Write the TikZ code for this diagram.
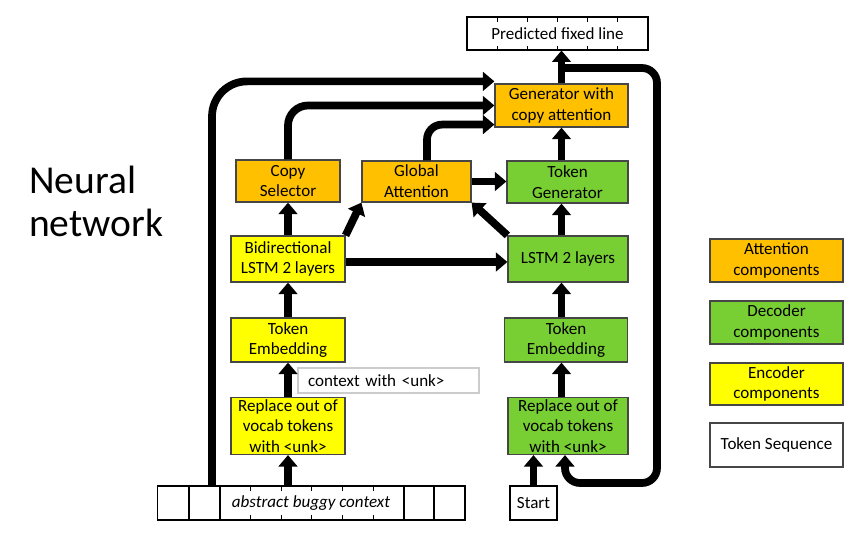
\documentclass[tikz,border=0pt]{standalone}
\usepackage{fontspec}
\setmainfont{Carlito}
\usetikzlibrary{arrows.meta}
\definecolor{attorange}{RGB}{255,192,0}
\definecolor{decgreen}{RGB}{120,207,52}
\definecolor{encyellow}{RGB}{255,255,0}
\definecolor{boxline}{RGB}{70,70,70}

\begin{document}
\begin{tikzpicture}[x=0.02cm, y=-0.02cm, font=\fontsize{9.7}{11.8}\selectfont]
            \useasboundingbox (0,0) rectangle (866,553);
            \tikzset{
                block/.style={draw=boxline, line width=0.7pt, align=center, inner sep=1pt},
                att/.style={block, fill=attorange},
                dec/.style={block, fill=decgreen},
                enc/.style={block, fill=encyellow},
                seq/.style={draw=black, line width=0.6pt, fill=white, inner sep=1pt},
                conn/.style={draw=black, line width=4.4pt, -{Triangle[width=10.5pt,length=6.5pt]}}
            }

            \node[align=left, anchor=west, font=\fontsize{22.5}{24.5}\selectfont] (title) at (23,201) {Neural\\network};

            % token sequences
            \node[seq, minimum width=3.62cm, minimum height=0.66cm] (pred) at (557.5,33.5) {Predicted fixed line};
            \node[seq, minimum width=6.16cm, minimum height=0.68cm] (abs) at (311,503) {\itshape abstract buggy context};
            \node[seq, minimum width=0.94cm, minimum height=0.68cm] (start) at (533.5,503) {Start};
            \node[draw=black!20, line width=0.6pt, text width=3.22cm, inner xsep=0.2cm, minimum height=0.5cm, align=left] (ctx) at (388.5,380.5) {context with <unk>};

            \foreach \x in {497,527,557,587,617} {
                \draw[line width=0.4pt] (\x,17) -- (\x,22);
                \draw[line width=0.4pt] (\x,46) -- (\x,50);
            }
            \foreach \x in {189,220,404,434}
                \draw[line width=0.6pt] (\x,486) -- (\x,520);
            \foreach \x in {250,281,311,342,373} {
                \draw[line width=0.4pt] (\x,486) -- (\x,491);
                \draw[line width=0.4pt] (\x,515) -- (\x,520);
            }

            % attention
            \node[att, minimum width=2.66cm, minimum height=0.86cm] (gen) at (561.5,105.5) {Generator with\\copy attention};
            \node[att, minimum width=2.08cm, minimum height=0.84cm] (copysel) at (288,181) {Copy\\Selector};
            \node[att, minimum width=2.18cm, minimum height=0.82cm] (globatt) at (416.5,181.5) {Global\\Attention};

            % encoder
            \node[enc, minimum width=2.28cm, minimum height=0.92cm] (bilstm) at (288,259) {Bidirectional\\LSTM 2 layers};
            \node[enc, minimum width=2.28cm, minimum height=0.88cm] (embl) at (288,340) {Token\\Embedding};
            \node[enc, minimum width=2.28cm, minimum height=1.12cm] (repl) at (288,426) {Replace out of\\vocab tokens\\with <unk>};

            % decoder
            \node[dec, minimum width=2.42cm, minimum height=0.84cm] (tokgen) at (567.5,182) {Token\\Generator};
            \node[dec, minimum width=2.40cm, minimum height=0.92cm] (lstm) at (568,259) {LSTM 2 layers};
            \node[dec, minimum width=2.46cm, minimum height=0.88cm] (embr) at (566,340) {Token\\Embedding};
            \node[dec, minimum width=2.40cm, minimum height=1.12cm] (repr) at (568,426) {Replace out of\\vocab tokens\\with <unk>};

            % legend
            \node[att, minimum width=2.66cm, minimum height=0.86cm] (legatt) at (776.5,260.5) {Attention\\components};
            \node[dec, minimum width=2.66cm, minimum height=0.86cm] (legdec) at (776.5,322.5) {Decoder\\components};
            \node[enc, minimum width=2.66cm, minimum height=0.84cm] (legenc) at (776.5,384) {Encoder\\components};
            \node[block, fill=white, minimum width=2.66cm, minimum height=0.88cm] (legseq) at (776.5,445) {Token Sequence};

            \coordinate (loopL) at (212,486);
            \coordinate (fbout) at (562,68);
            \coordinate (fbin) at (565,483);

            % encoder side
            \draw[conn] (abs.north -| repl) -- (repl.south);
            \draw[conn] (repl.north) -- (embl.south);
            \draw[conn] (embl.north) -- (bilstm.south);
            \draw[conn] (bilstm.north) -- (copysel.south);
            \draw[conn] (bilstm.north east) -- (globatt.south west);
            \draw[conn] ([yshift=-0.06cm]bilstm.east) -- ([yshift=-0.06cm]bilstm.east -| lstm.west);

            % decoder side
            \draw[conn] (start.north) -- (start.north |- repr.south);
            \draw[conn] (repr.north -| gen) -- (embr.south -| gen);
            \draw[conn] (embr.north -| gen) -- (lstm.south -| gen);
            \draw[conn] (lstm.north -| gen) -- (tokgen.south -| gen);
            \draw[conn] (lstm.north west) -- (globatt.south east);
            \draw[conn] (globatt.east) -- (globatt.east -| tokgen.west);
            \draw[conn] (tokgen.north -| gen) -- (gen.south);
            \draw[conn] (gen.north) -- (gen.north |- pred.south);

            % into the generator
            \draw[conn, rounded corners=0.7cm] (loopL) |- ([yshift=0.04cm]gen.north west);
            \draw[conn, rounded corners=0.4cm] (copysel.north) |- (gen.west);
            \draw[conn, rounded corners=0.3cm] ([xshift=0.21cm]globatt.north) |- ([yshift=0.06cm]gen.south west);

            % feedback of the predicted token
            \draw[conn, rounded corners=0.3cm] (fbout) -- (657,68) |- (fbin) -- (repr.south -| fbin);
        \end{tikzpicture}
\end{document}
